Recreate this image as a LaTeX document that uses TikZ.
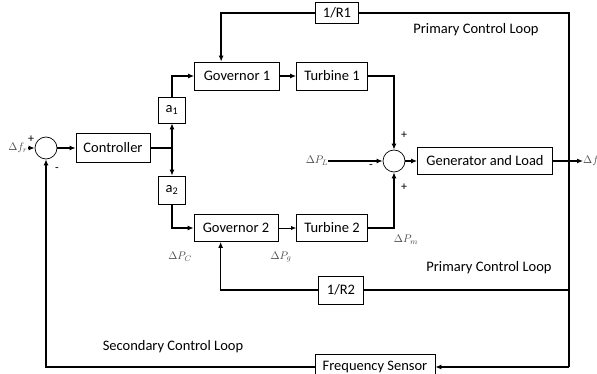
\documentclass[tikz,border=0pt]{standalone}
\usepackage{fontspec}
\setmainfont{Carlito}
\usetikzlibrary{arrows.meta,calc}

\tikzset{
	block/.style={draw, line width=0.7pt, minimum height=27pt, inner sep=1pt, font=\fontsize{14.5}{16}\selectfont},
	sumnode/.style={draw, circle, line width=0.7pt, minimum size=22pt, inner sep=0pt},
	wire/.style={line width=1.6pt},
	arr/.style={line width=1.6pt, -{Latex[length=6pt,width=5pt]}},
	thinarr/.style={line width=0.6pt, -{Latex[length=5pt,width=4pt]}},
	sgn/.style={font=\fontsize{12}{13}\selectfont, inner sep=0pt},
	lbl/.style={text=black!70, inner sep=0pt, font=\fontsize{11}{13}\selectfont},
	loop/.style={font=\fontsize{14.5}{16}\selectfont, inner sep=0pt}
}

\begin{document}
\begin{tikzpicture}[x=1pt, y=-1pt]
	\useasboundingbox (0,0) rectangle (597,374);
	% blocks
	\node[sumnode] (sum1) at (46,148) {};
	\node[block, minimum width=74pt, minimum height=29pt] (ctrl) at (113,148) {Controller};
	\node[block, minimum width=27pt, minimum height=26pt] (a1) at (172,110) {a\textsubscript{1}};
	\node[block, minimum width=27pt, minimum height=28pt] (a2) at (172,190) {a\textsubscript{2}};
	\node[block, minimum width=85pt, minimum height=28pt] (gov1) at (237,76) {Governor 1};
	\node[block, minimum width=71pt, minimum height=28pt] (tur1) at (332,76) {Turbine 1};
	\node[block, minimum width=84pt] (gov2) at (236,228) {Governor 2};
	\node[block, minimum width=71pt] (tur2) at (332,228) {Turbine 2};
	\node[block, minimum width=43pt, minimum height=21pt, fill=white] (r1) at (337,13) {1/R1};
	\node[block, minimum width=45pt, minimum height=28pt, fill=white] (r2) at (341,290) {1/R2};
	\node[sumnode] (sum2) at (394,161) {};
	\node[block, minimum width=135pt] (gen) at (485,161) {Generator and Load};
	\node[block, minimum width=120pt, minimum height=26pt, fill=white] (fs) at (375,367) {Frequency Sensor};
	% signal labels
	\node[lbl] (dfr) at (18,148) {$\Delta f_r$};
	\node[lbl] (dpl) at (317,161) {$\Delta P_L$};
	\node[lbl, anchor=west] (df) at (583,161) {$\Delta f$};
	\node[lbl] (dpm) at (406,240) {$\Delta P_m$};
	\node[lbl] (dpc) at (180,257) {$\Delta P_C$};
	\node[lbl] (dpg) at (281,257) {$\Delta P_g$};
	% signs
	\node[sgn] (p1) at (31,139) {+};
	\node[sgn] (m1) at (57,170) {-};
	\node[sgn] (p2) at (404,135) {+};
	\node[sgn] (m2) at (371,167) {-};
	\node[sgn] (p3) at (404,187) {+};
	% loop names
	\node[loop] (pcl1) at (476,30) {Primary Control Loop};
	\node[loop] (pcl2) at (489,268) {Primary Control Loop};
	\node[loop] (scl) at (173,347) {Secondary Control Loop};
	% junctions
	\coordinate (br) at (172,148);
	\coordinate (tap) at (569,161);
	\coordinate (g1in) at ([xshift=27pt]gov1.north west);
	\coordinate (g2in) at ([xshift=27pt]gov2.south west);
	% forward path
	\draw[arr] (dfr) -- (sum1);
	\draw[arr] (sum1) -- (ctrl);
	\draw[wire] (ctrl.east) -- (br);
	\draw[arr] (br) -- (a1.south);
	\draw[arr] (br) -- (a2.north);
	\draw[arr] (a1.north) |- (gov1.west);
	\draw[arr] (a2.south) |- (gov2.west);
	\draw[arr] (gov1) -- (tur1);
	\draw[thinarr] (gov2) -- (tur2);
	\draw[arr] (tur1.east) -| (sum2.north);
	\draw[arr] (tur2.east) -| (sum2.south);
	\draw[arr] (dpl) -- (sum2);
	\draw[arr] (sum2) -- (gen);
	\draw[arr] (gen.east) -- (df.west);
	% feedback
	\draw[wire] (tap) |- (r1.east);
	\draw[arr] (r1.west) -| (g1in);
	\draw[wire] (tap) |- (fs.east -| tap);
	\draw[wire] (tap |- r2.east) -- (r2.east);
	\draw[arr] (r2.west) -| (g2in);
	\draw[arr] (fs.east -| tap) -- (fs.east);
	\draw[arr] (fs.west) -| (sum1.south);
\end{tikzpicture}
\end{document}
